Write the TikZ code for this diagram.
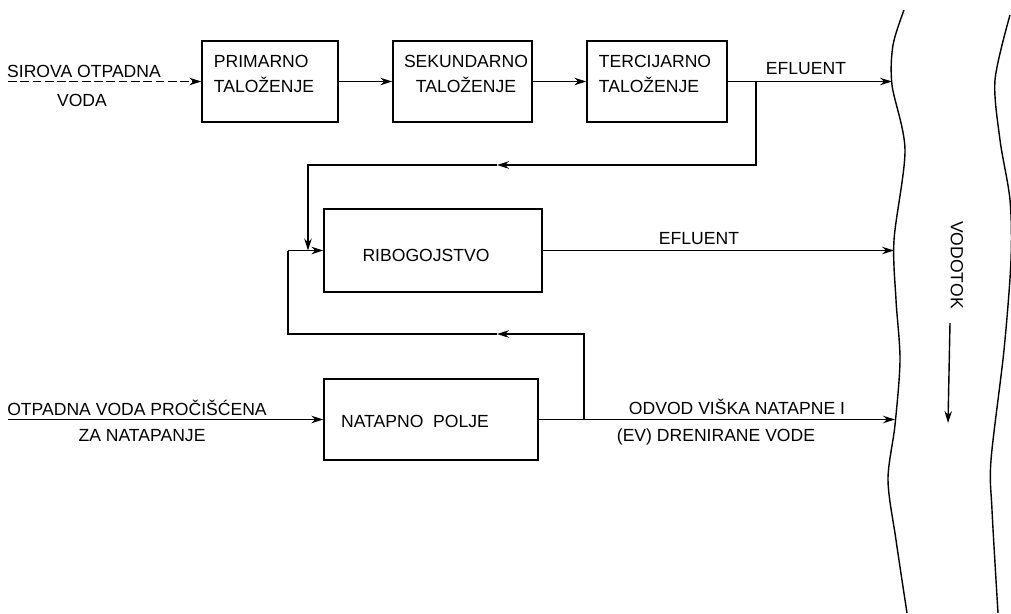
\documentclass[tikz,border=0pt]{standalone}
\usepackage{fontspec}
\setmainfont{Liberation Sans}
\usetikzlibrary{arrows.meta}

\begin{document}
\begin{tikzpicture}[
        x=0.02cm,y=-0.02cm,line width=0.8pt,
        >={Stealth[length=2.4mm,width=1.5mm]},
        box/.style={draw,inner sep=0pt},
        txt/.style={inner sep=0pt,font=\fontsize{10}{14}\selectfont},
        feed/.style={dash pattern=on 5pt off 2pt}
      ]
      \useasboundingbox (0,0) rectangle (1011,613);

      % boxes
      \node[box,minimum width=2.72cm,minimum height=1.62cm] (prim) at (270,81.5) {};
      \node[box,minimum width=2.78cm,minimum height=1.62cm] (sek) at (462.5,81.5) {};
      \node[box,minimum width=2.80cm,minimum height=1.62cm] (ter) at (657,81.5) {};
      \node[box,minimum width=4.36cm,minimum height=1.66cm] (rib) at (433,250.5) {};
      \node[box,minimum width=4.28cm,minimum height=1.62cm] (nat) at (431,419.5) {};

      \node[txt,align=left] (primtxt) at (264,74) {PRIMARNO\\TALOŽENJE};
      \node[txt,align=center] (sektxt) at (466,74) {SEKUNDARNO\\TALOŽENJE};
      \node[txt,align=left] (tertxt) at (655,74) {TERCIJARNO\\TALOŽENJE};
      \node[txt] (ribtxt) at (426,255) {RIBOGOJSTVO};
      \node[txt] (nattxt) at (415,421) {NATAPNO\ \ POLJE};

      % labels
      \node[txt] (sirova) at (84,71) {SIROVA OTPADNA};
      \node[txt] (voda) at (82,100) {VODA};
      \node[txt] (otpadna) at (137,408) {OTPADNA VODA PROČIŠĆENA};
      \node[txt] (natapanje) at (142,436) {ZA NATAPANJE};
      \node[txt] (ef1) at (806,69) {EFLUENT};
      \node[txt] (ef2) at (699,239) {EFLUENT};
      \node[txt] (odvod) at (737,407) {ODVOD VIŠKA NATAPNE I};
      \node[txt] (ev) at (716,437) {(EV) DRENIRANE VODE};
      \node[txt,rotate=-90] (vodotok) at (957,265) {VODOTOK};

      \coordinate (in1) at (8,81.5);
      \coordinate (in2) at (8,419.5);
      \coordinate (r1) at (892,81.5);
      \coordinate (r2) at (894,250.5);
      \coordinate (r3) at (895,419.5);
      \coordinate (j1) at (756,81.5);
      \coordinate (j2) at (584,419.5);
      \coordinate (m1) at (497,165);
      \coordinate (m2) at (497,334);
      \coordinate (f1) at (308,250.5);
      \coordinate (f2) at (288,250.5);
      \coordinate (fl1) at (950,323);
      \coordinate (fl2) at (948,423);

      % flow
      \draw[->,feed] (in1) -- (prim);
      \draw[->] (prim) -- (sek);
      \draw[->] (sek) -- (ter);
      \draw[->] (ter) -- (r1);
      \draw[->] (rib) -- (r2);
      \draw[->] (in2) -- (nat);
      \draw[->] (nat) -- (r3);

      % returns
      \draw[->] (j1) |- (m1);
      \draw[->] (m1) -| (f1);
      \draw[->] (j2) |- (m2);
      \draw (m2) -| (f2);
      \draw[->] (f2) -- (rib);

      % river
      \draw plot[smooth] coordinates {(904,10) (893,45) (892,85) (905,150)
        (894,240) (896,300) (900,360) (895,425) (888,480) (896,540) (907,613)};
      \draw plot[smooth] coordinates {(1010,15) (995,80) (1000,140) (1010,200)
        (1011,260) (1004,350) (991,460) (992,510) (998,613)};
      \draw[->] (fl1) -- (fl2);
    \end{tikzpicture}
\end{document}
